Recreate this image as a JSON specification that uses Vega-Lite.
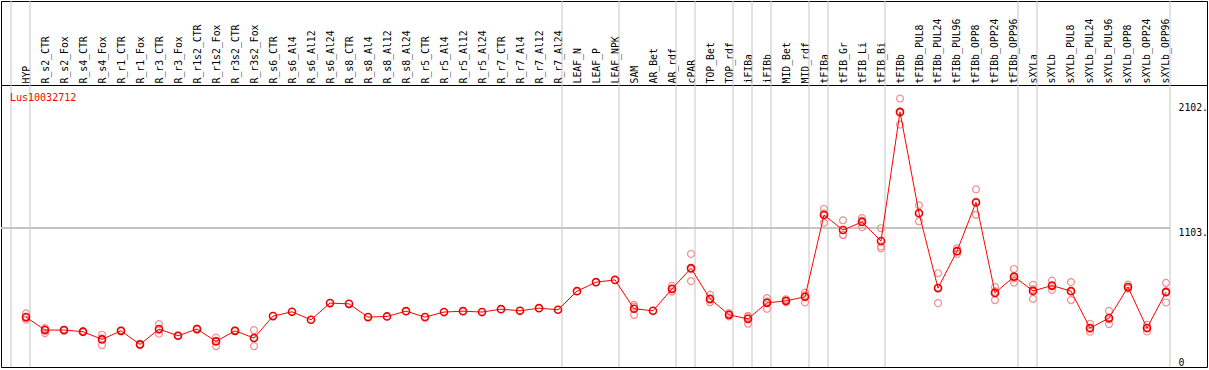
{
  "$schema": "https://vega.github.io/schema/vega-lite/v6.json",
  "width": 1206,
  "height": 366,
  "autosize": {"type": "none"},
  "padding": {"left": 1, "top": 1, "right": 2, "bottom": 3},
  "background": "white",
  "config": {"view": {"stroke": "black", "strokeWidth": 1}, "axis": {"labelOverlap": false, "labelBound": false, "labelSeparation": 0}},
  "title": {"text": "Lus10032712", "anchor": "start", "frame": "group", "orient": "top", "offset": -112, "dx": 9, "color": "red", "font": "DejaVu Sans Mono", "fontSize": 10, "fontWeight": "normal", "baseline": "bottom"},
  "datasets": {
    "main": [
      {"i":1,"sample":"HYP","mean":396},
      {"i":2,"sample":"R_s2_CTR","mean":293},
      {"i":3,"sample":"R_s2_Fox","mean":293},
      {"i":4,"sample":"R_s4_CTR","mean":280},
      {"i":5,"sample":"R_s4_Fox","mean":219},
      {"i":6,"sample":"R_r1_CTR","mean":287},
      {"i":7,"sample":"R_r1_Fox","mean":179},
      {"i":8,"sample":"R_r3_CTR","mean":301},
      {"i":9,"sample":"R_r3_Fox","mean":248},
      {"i":10,"sample":"R_r1s2_CTR","mean":301},
      {"i":11,"sample":"R_r1s2_Fox","mean":203},
      {"i":12,"sample":"R_r3s2_CTR","mean":287},
      {"i":13,"sample":"R_r3s2_Fox","mean":230},
      {"i":14,"sample":"R_s6_CTR","mean":404},
      {"i":15,"sample":"R_s6_Al4","mean":438},
      {"i":16,"sample":"R_s6_Al12","mean":375},
      {"i":17,"sample":"R_s6_Al24","mean":507},
      {"i":18,"sample":"R_s8_CTR","mean":501},
      {"i":19,"sample":"R_s8_Al4","mean":396},
      {"i":20,"sample":"R_s8_Al12","mean":401},
      {"i":21,"sample":"R_s8_Al24","mean":443},
      {"i":22,"sample":"R_r5_CTR","mean":396},
      {"i":23,"sample":"R_r5_Al4","mean":436},
      {"i":24,"sample":"R_r5_Al12","mean":443},
      {"i":25,"sample":"R_r5_Al24","mean":436},
      {"i":26,"sample":"R_r7_CTR","mean":459},
      {"i":27,"sample":"R_r7_Al4","mean":446},
      {"i":28,"sample":"R_r7_Al12","mean":467},
      {"i":29,"sample":"R_r7_Al24","mean":454},
      {"i":30,"sample":"LEAF_N","mean":602},
      {"i":31,"sample":"LEAF_P","mean":673},
      {"i":32,"sample":"LEAF_NPK","mean":691},
      {"i":33,"sample":"SAM","mean":462},
      {"i":34,"sample":"AR_Bet","mean":446},
      {"i":35,"sample":"AR_rdf","mean":620},
      {"i":36,"sample":"cPAR","mean":784},
      {"i":37,"sample":"TOP_Bet","mean":541},
      {"i":38,"sample":"TOP_rdf","mean":414},
      {"i":39,"sample":"iFIBa","mean":382},
      {"i":40,"sample":"iFIBb","mean":509},
      {"i":41,"sample":"MID_Bet","mean":525},
      {"i":42,"sample":"MID_rdf","mean":557},
      {"i":43,"sample":"tFIBa","mean":1206},
      {"i":44,"sample":"tFIB_Gr","mean":1087},
      {"i":45,"sample":"tFIB_Li","mean":1151},
      {"i":46,"sample":"tFIB_Bi","mean":1000},
      {"i":47,"sample":"tFIBb","mean":2024},
      {"i":48,"sample":"tFIBb_PUL8","mean":1220},
      {"i":49,"sample":"tFIBb_PUL24","mean":626},
      {"i":50,"sample":"tFIBb_PUL96","mean":919},
      {"i":51,"sample":"tFIBb_OPP8","mean":1307},
      {"i":52,"sample":"tFIBb_OPP24","mean":588},
      {"i":53,"sample":"tFIBb_OPP96","mean":717},
      {"i":54,"sample":"sXYLa","mean":604},
      {"i":55,"sample":"sXYLb","mean":646},
      {"i":56,"sample":"sXYLb_PUL8","mean":602},
      {"i":57,"sample":"sXYLb_PUL24","mean":309},
      {"i":58,"sample":"sXYLb_PUL96","mean":388},
      {"i":59,"sample":"sXYLb_OPP8","mean":634},
      {"i":60,"sample":"sXYLb_OPP24","mean":309},
      {"i":61,"sample":"sXYLb_OPP96","mean":594}
    ],
    "reps": [
      {"i":1,"v":425},{"i":1,"v":390},{"i":1,"v":375},
      {"i":2,"v":309},{"i":2,"v":300},{"i":2,"v":269},
      {"i":3,"v":296},{"i":3,"v":290},
      {"i":4,"v":285},{"i":4,"v":276},
      {"i":5,"v":256},{"i":5,"v":227},{"i":5,"v":174},
      {"i":6,"v":290},{"i":6,"v":284},
      {"i":7,"v":184},{"i":7,"v":174},
      {"i":8,"v":341},{"i":8,"v":299},{"i":8,"v":264},
      {"i":9,"v":250},{"i":9,"v":246},
      {"i":10,"v":304},{"i":10,"v":298},
      {"i":11,"v":234},{"i":11,"v":208},{"i":11,"v":166},
      {"i":12,"v":290},{"i":12,"v":284},
      {"i":13,"v":293},{"i":13,"v":230},{"i":13,"v":166},
      {"i":33,"v":493},{"i":33,"v":414},{"i":33,"v":479},
      {"i":35,"v":644},{"i":35,"v":599},{"i":35,"v":617},
      {"i":36,"v":897},{"i":36,"v":681},{"i":36,"v":774},
      {"i":37,"v":573},{"i":37,"v":515},{"i":37,"v":535},
      {"i":38,"v":427},{"i":38,"v":414},{"i":38,"v":401},
      {"i":39,"v":406},{"i":39,"v":343},{"i":39,"v":397},
      {"i":40,"v":546},{"i":40,"v":462},{"i":40,"v":519},
      {"i":41,"v":538},{"i":41,"v":515},{"i":41,"v":522},
      {"i":42,"v":591},{"i":42,"v":512},{"i":42,"v":568},
      {"i":43,"v":1254},{"i":43,"v":1145},{"i":43,"v":1219},
      {"i":44,"v":1164},{"i":44,"v":1048},{"i":44,"v":1049},
      {"i":45,"v":1182},{"i":45,"v":1109},{"i":45,"v":1162},
      {"i":46,"v":1101},{"i":46,"v":942},{"i":46,"v":957},
      {"i":47,"v":2130},{"i":47,"v":1924},{"i":47,"v":2018},
      {"i":48,"v":1283},{"i":48,"v":1156},{"i":48,"v":1221},
      {"i":49,"v":744},{"i":49,"v":507},{"i":49,"v":627},
      {"i":50,"v":942},{"i":50,"v":897},{"i":50,"v":918},
      {"i":51,"v":1410},{"i":51,"v":1208},{"i":51,"v":1303},
      {"i":52,"v":634},{"i":52,"v":531},{"i":52,"v":600},
      {"i":53,"v":778},{"i":53,"v":670},{"i":53,"v":703},
      {"i":54,"v":652},{"i":54,"v":541},{"i":54,"v":619},
      {"i":55,"v":686},{"i":55,"v":612},{"i":55,"v":640},
      {"i":56,"v":673},{"i":56,"v":531},{"i":56,"v":602},
      {"i":57,"v":343},{"i":57,"v":280},{"i":57,"v":304},
      {"i":58,"v":446},{"i":58,"v":341},{"i":58,"v":377},
      {"i":59,"v":654},{"i":59,"v":626},{"i":59,"v":622},
      {"i":60,"v":335},{"i":60,"v":282},{"i":60,"v":310},
      {"i":61,"v":668},{"i":61,"v":512},{"i":61,"v":602}
    ],
    "groups": [
      {"after":1},{"after":29},{"after":32},{"after":35},{"after":36},{"after":38},{"after":39},{"after":40},{"after":42},{"after":43},{"after":46},{"after":53},{"after":54},{"after":61}
    ],
    "start": [
      {"first":1}
    ]
  },
  "layer": [
    {
      "data": {"name": "main"},
      "mark": {"type": "point", "shape": "circle", "filled": false, "size": 50, "strokeWidth": 1.6, "color": "#ee0000", "opacity": 0},
      "encoding": {
        "x": {
          "field": "i", "type": "quantitative",
          "scale": {"domain": [-0.3158, 63.1579], "nice": false, "zero": false},
          "axis": {
            "orient": "top", "offset": -84, "title": null, "tickCount": 200,
            "values": [1,2,3,4,5,6,7,8,9,10,11,12,13,14,15,16,17,18,19,20,21,22,23,24,25,26,27,28,29,30,31,32,33,34,35,36,37,38,39,40,41,42,43,44,45,46,47,48,49,50,51,52,53,54,55,56,57,58,59,60,61],
            "labelExpr": "['HYP','R_s2_CTR','R_s2_Fox','R_s4_CTR','R_s4_Fox','R_r1_CTR','R_r1_Fox','R_r3_CTR','R_r3_Fox','R_r1s2_CTR','R_r1s2_Fox','R_r3s2_CTR','R_r3s2_Fox','R_s6_CTR','R_s6_Al4','R_s6_Al12','R_s6_Al24','R_s8_CTR','R_s8_Al4','R_s8_Al12','R_s8_Al24','R_r5_CTR','R_r5_Al4','R_r5_Al12','R_r5_Al24','R_r7_CTR','R_r7_Al4','R_r7_Al12','R_r7_Al24','LEAF_N','LEAF_P','LEAF_NPK','SAM','AR_Bet','AR_rdf','cPAR','TOP_Bet','TOP_rdf','iFIBa','iFIBb','MID_Bet','MID_rdf','tFIBa','tFIB_Gr','tFIB_Li','tFIB_Bi','tFIBb','tFIBb_PUL8','tFIBb_PUL24','tFIBb_PUL96','tFIBb_OPP8','tFIBb_OPP24','tFIBb_OPP96','sXYLa','sXYLb','sXYLb_PUL8','sXYLb_PUL24','sXYLb_PUL96','sXYLb_OPP8','sXYLb_OPP24','sXYLb_OPP96'][datum.value - 1]",
            "labelAngle": -90, "labelAlign": "left", "labelBaseline": "middle",
            "labelPadding": 2, "ticks": false, "tickSize": 0, "grid": false,
            "domain": true, "domainColor": "black", "domainWidth": 1,
            "labelFont": "DejaVu Sans Mono", "labelFontSize": 9.8, "labelColor": "black",
            "labelOverlap": false, "labelBound": false, "labelFlush": false, "labelLimit": 0, "labelSeparation": 0
          }
        },
        "y": {
          "field": "mean", "type": "quantitative",
          "scale": {"domain": [0, 2904], "nice": false, "zero": true},
          "axis": {
            "orient": "right", "offset": -31, "title": null,
            "values": [0, 1103, 2102],
            "labelExpr": "datum.value == 0 ? '0' : datum.value + '.'",
            "labelAlign": "left",
            "labelBaseline": {"condition": {"test": "datum.value == 0", "value": "bottom"}, "value": "top"},
            "labelPadding": 2, "ticks": false, "tickSize": 0, "grid": false, "domain": false,
            "labelFont": "DejaVu Sans Mono", "labelFontSize": 9.8, "labelColor": "black",
            "labelOverlap": false, "labelBound": false, "labelFlush": false
          }
        }
      }
    },
    {
      "data": {"name": "start"},
      "mark": {"type": "rule", "color": "#c4c4c4", "strokeWidth": 1, "xOffset": -15},
      "encoding": {
        "x": {"field": "first", "type": "quantitative"}
      }
    },
    {
      "data": {"name": "groups"},
      "mark": {"type": "rule", "color": "#c4c4c4", "strokeWidth": 1, "xOffset": 4},
      "encoding": {
        "x": {"field": "after", "type": "quantitative"}
      }
    },
    {
      "data": {"name": "groups"},
      "mark": {"type": "rule", "color": "#c4c4c4", "strokeWidth": 1, "x2Offset": 4},
      "encoding": {
        "y": {"datum": 1103, "type": "quantitative"},
        "x": {"datum": -0.3158, "type": "quantitative"},
        "x2": {"datum": 61}
      }
    },
    {
      "data": {"name": "reps"},
      "mark": {"type": "point", "shape": "circle", "filled": false, "size": 48, "strokeWidth": 1.2, "color": "#f09090", "opacity": 1},
      "encoding": {
        "x": {"field": "i", "type": "quantitative"},
        "y": {"field": "v", "type": "quantitative"}
      }
    },
    {
      "data": {"name": "main"},
      "mark": {"type": "line", "color": "red", "strokeWidth": 1},
      "encoding": {
        "x": {"field": "i", "type": "quantitative"},
        "y": {"field": "mean", "type": "quantitative"}
      }
    },
    {
      "data": {"name": "main"},
      "mark": {"type": "point", "shape": "circle", "filled": false, "size": 50, "strokeWidth": 1.6, "color": "#ee0000", "opacity": 1},
      "encoding": {
        "x": {"field": "i", "type": "quantitative"},
        "y": {"field": "mean", "type": "quantitative"}
      }
    }
  ]
}
